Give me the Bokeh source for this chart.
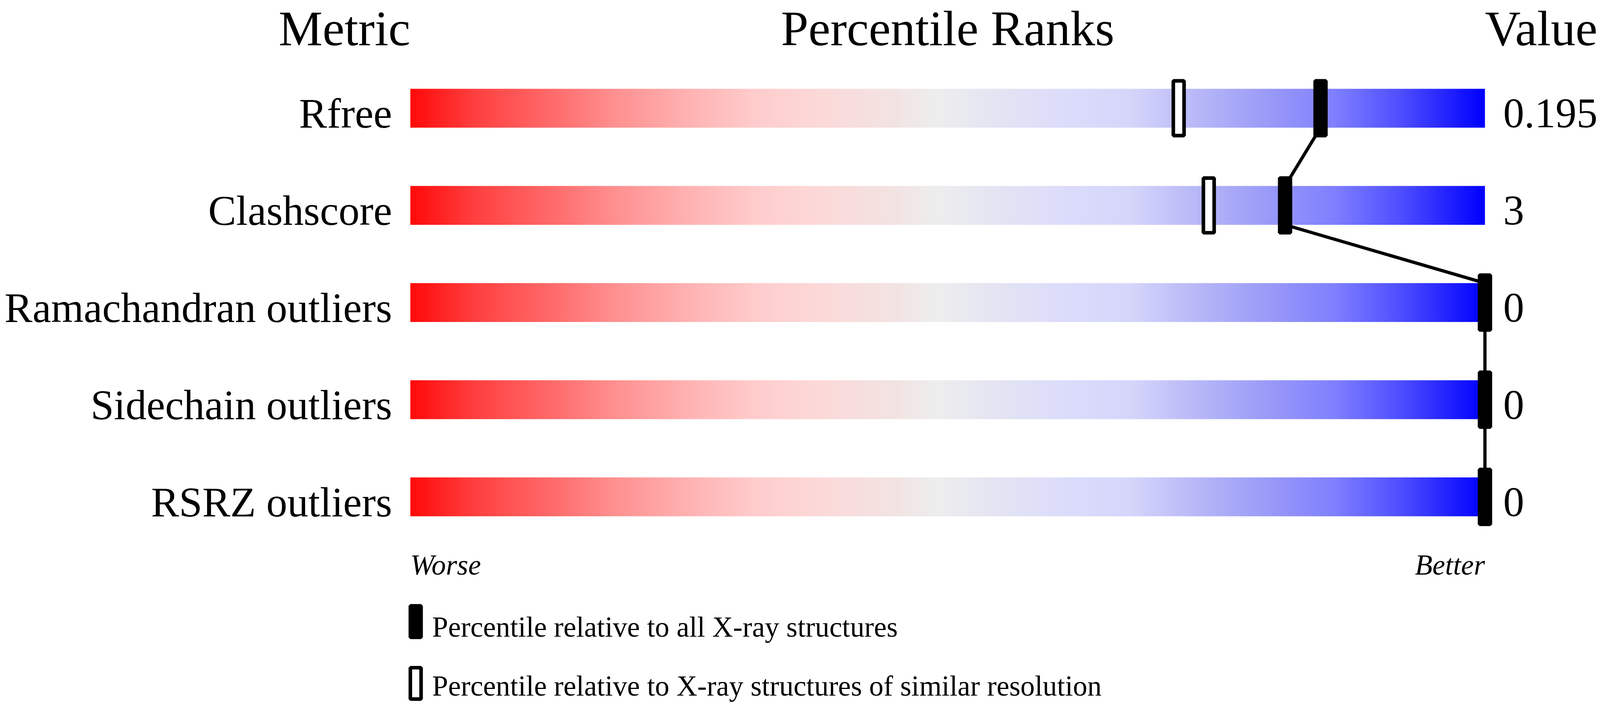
import numpy as np
from bokeh.plotting import figure
from bokeh.models import Range1d
from bokeh.embed import file_html
from bokeh.resources import INLINE
from bokeh.core.properties import value

# ---------------- data ----------------
metrics = ["Rfree", "Clashscore", "Ramachandran outliers", "Sidechain outliers", "RSRZ outliers"]
metric_values = ["0.195", "3", "0", "0", "0"]
pct_all = [84.7, 81.4, 100, 100, 100]        # percentile relative to all X-ray structures
pct_similar = [71.5, 74.3, 100, 100, 100]    # percentile relative to similar resolution
legend_labels = ["Percentile relative to all X-ray structures",
                 "Percentile relative to X-ray structures of similar resolution"]

# gradient colour stops of the slider (style)
grad_pos = [0.00, 0.06, 0.13, 0.19, 0.26, 0.32, 0.38, 0.45, 0.49, 0.54, 0.61, 0.67, 0.73, 0.80, 0.86, 0.92, 1.00]
grad_r = [255, 255, 255, 255, 255, 255, 253, 243, 238, 229, 220, 214, 185, 154, 128, 80, 0]
grad_g = [10, 64, 106, 144, 179, 204, 217, 227, 238, 229, 220, 214, 185, 154, 128, 80, 0]
grad_b = [10, 64, 106, 144, 179, 204, 217, 227, 238, 243, 252, 251, 248, 249, 255, 255, 255]

# layout scales (horizontal / vertical)
W, H = 4094, 1800
S = 0.917
SY = H / 1808.0
UNIT_PX = 250 * SY            # screen px per row unit


def fpx(v):
    return v * S


def base(y, size_px):
    # shift so that the glyph baseline lands on y
    return y + 0.3375 * size_px / UNIT_PX


FONT = value("Liberation Serif")
n = len(metrics)
row_y = [-float(i) for i in range(n)]

x0 = -1145 / 30.0
y_top = 278 / 250.0
p = figure(width=W, height=H,
           x_range=Range1d(x0, x0 + W / (30 * S)), y_range=Range1d(y_top - H / UNIT_PX, y_top),
           output_backend="svg", toolbar_location=None, min_border=0,
           x_axis_location=None, y_axis_location=None)
p.grid.visible = False
p.outline_line_color = None
p.background_fill_color = "white"
p.border_fill_color = "white"

# gradient bars
N = 1000
t = np.linspace(0, 1, N)
img = np.empty((1, N), dtype=np.uint32)
view = img.view(dtype=np.uint8).reshape((1, N, 4))
view[0, :, 0] = np.interp(t, grad_pos, grad_r).astype(np.uint8)
view[0, :, 1] = np.interp(t, grad_pos, grad_g).astype(np.uint8)
view[0, :, 2] = np.interp(t, grad_pos, grad_b).astype(np.uint8)
view[0, :, 3] = 255
p.image_rgba(image=[img] * n, x=[0] * n, y=[y - 0.2 for y in row_y],
             dw=[100] * n, dh=[0.4] * n)

# connecting line between the "all" markers
p.segment(x0=pct_all[:-1], y0=[y - 0.2 for y in row_y[:-1]],
          x1=pct_all[1:], y1=[y + 0.2 for y in row_y[1:]],
          line_color="black", line_width=9 * S)

# markers
LW = 10 * S
MW = 40 * S - LW
MH = 150 * SY - LW
p.rect(x=pct_similar, y=row_y, width=MW, height=MH, width_units="screen", height_units="screen",
       fill_color="white", line_color="black", line_width=LW)
p.rect(x=pct_all, y=row_y, width=MW, height=MH, width_units="screen", height_units="screen",
       fill_color="black", line_color="black", line_width=LW)

# headers
F_HDR, F_LAB, F_SMALL = fpx(138), fpx(117), fpx(80)
hdr = dict(text_font=FONT, text_font_size=f"{F_HDR:.1f}px", text_baseline="alphabetic", text_color="black")
yh = base(0.65, F_HDR)
p.text(x=[0], y=[yh], text=["Metric"], text_align="right", **hdr)
p.text(x=[50], y=[yh], text=["Percentile Ranks"], text_align="center", **hdr)
p.text(x=[100], y=[yh], text=["Value"], text_align="left", **hdr)

# row labels and values
lab = dict(text_font=FONT, text_font_size=f"{F_LAB:.1f}px", text_baseline="alphabetic", text_color="black")
yl = [base(y - 0.2, F_LAB) for y in row_y]
p.text(x=[-1.7] * n, y=yl, text=metrics, text_align="right", **lab)
p.text(x=[101.7] * n, y=yl, text=metric_values, text_align="left", **lab)

# worse / better
small = dict(text_font=FONT, text_font_size=f"{F_SMALL:.1f}px", text_baseline="alphabetic", text_color="black")
yw = base(-4.8, F_SMALL)
p.text(x=[0], y=[yw], text=["Worse"], text_font_style="italic", text_align="left", **small)
p.text(x=[100], y=[yw], text=["Better"], text_font_style="italic", text_align="right", **small)

# legend
leg_marker_y = [-5.284, -5.92]
leg_text_y = [base(-5.44, F_SMALL), base(-6.045, F_SMALL)]
LH = 90 * SY - LW
p.rect(x=[0.5], y=[leg_marker_y[0]], width=MW, height=LH, width_units="screen", height_units="screen",
       fill_color="black", line_color="black", line_width=LW)
p.rect(x=[0.5], y=[leg_marker_y[1]], width=MW, height=LH, width_units="screen", height_units="screen",
       fill_color="white", line_color="black", line_width=LW)
p.text(x=[2.03, 2.03], y=leg_text_y, text=legend_labels, text_align="left", **small)

open("out.html", "w").write(file_html(p, INLINE))
